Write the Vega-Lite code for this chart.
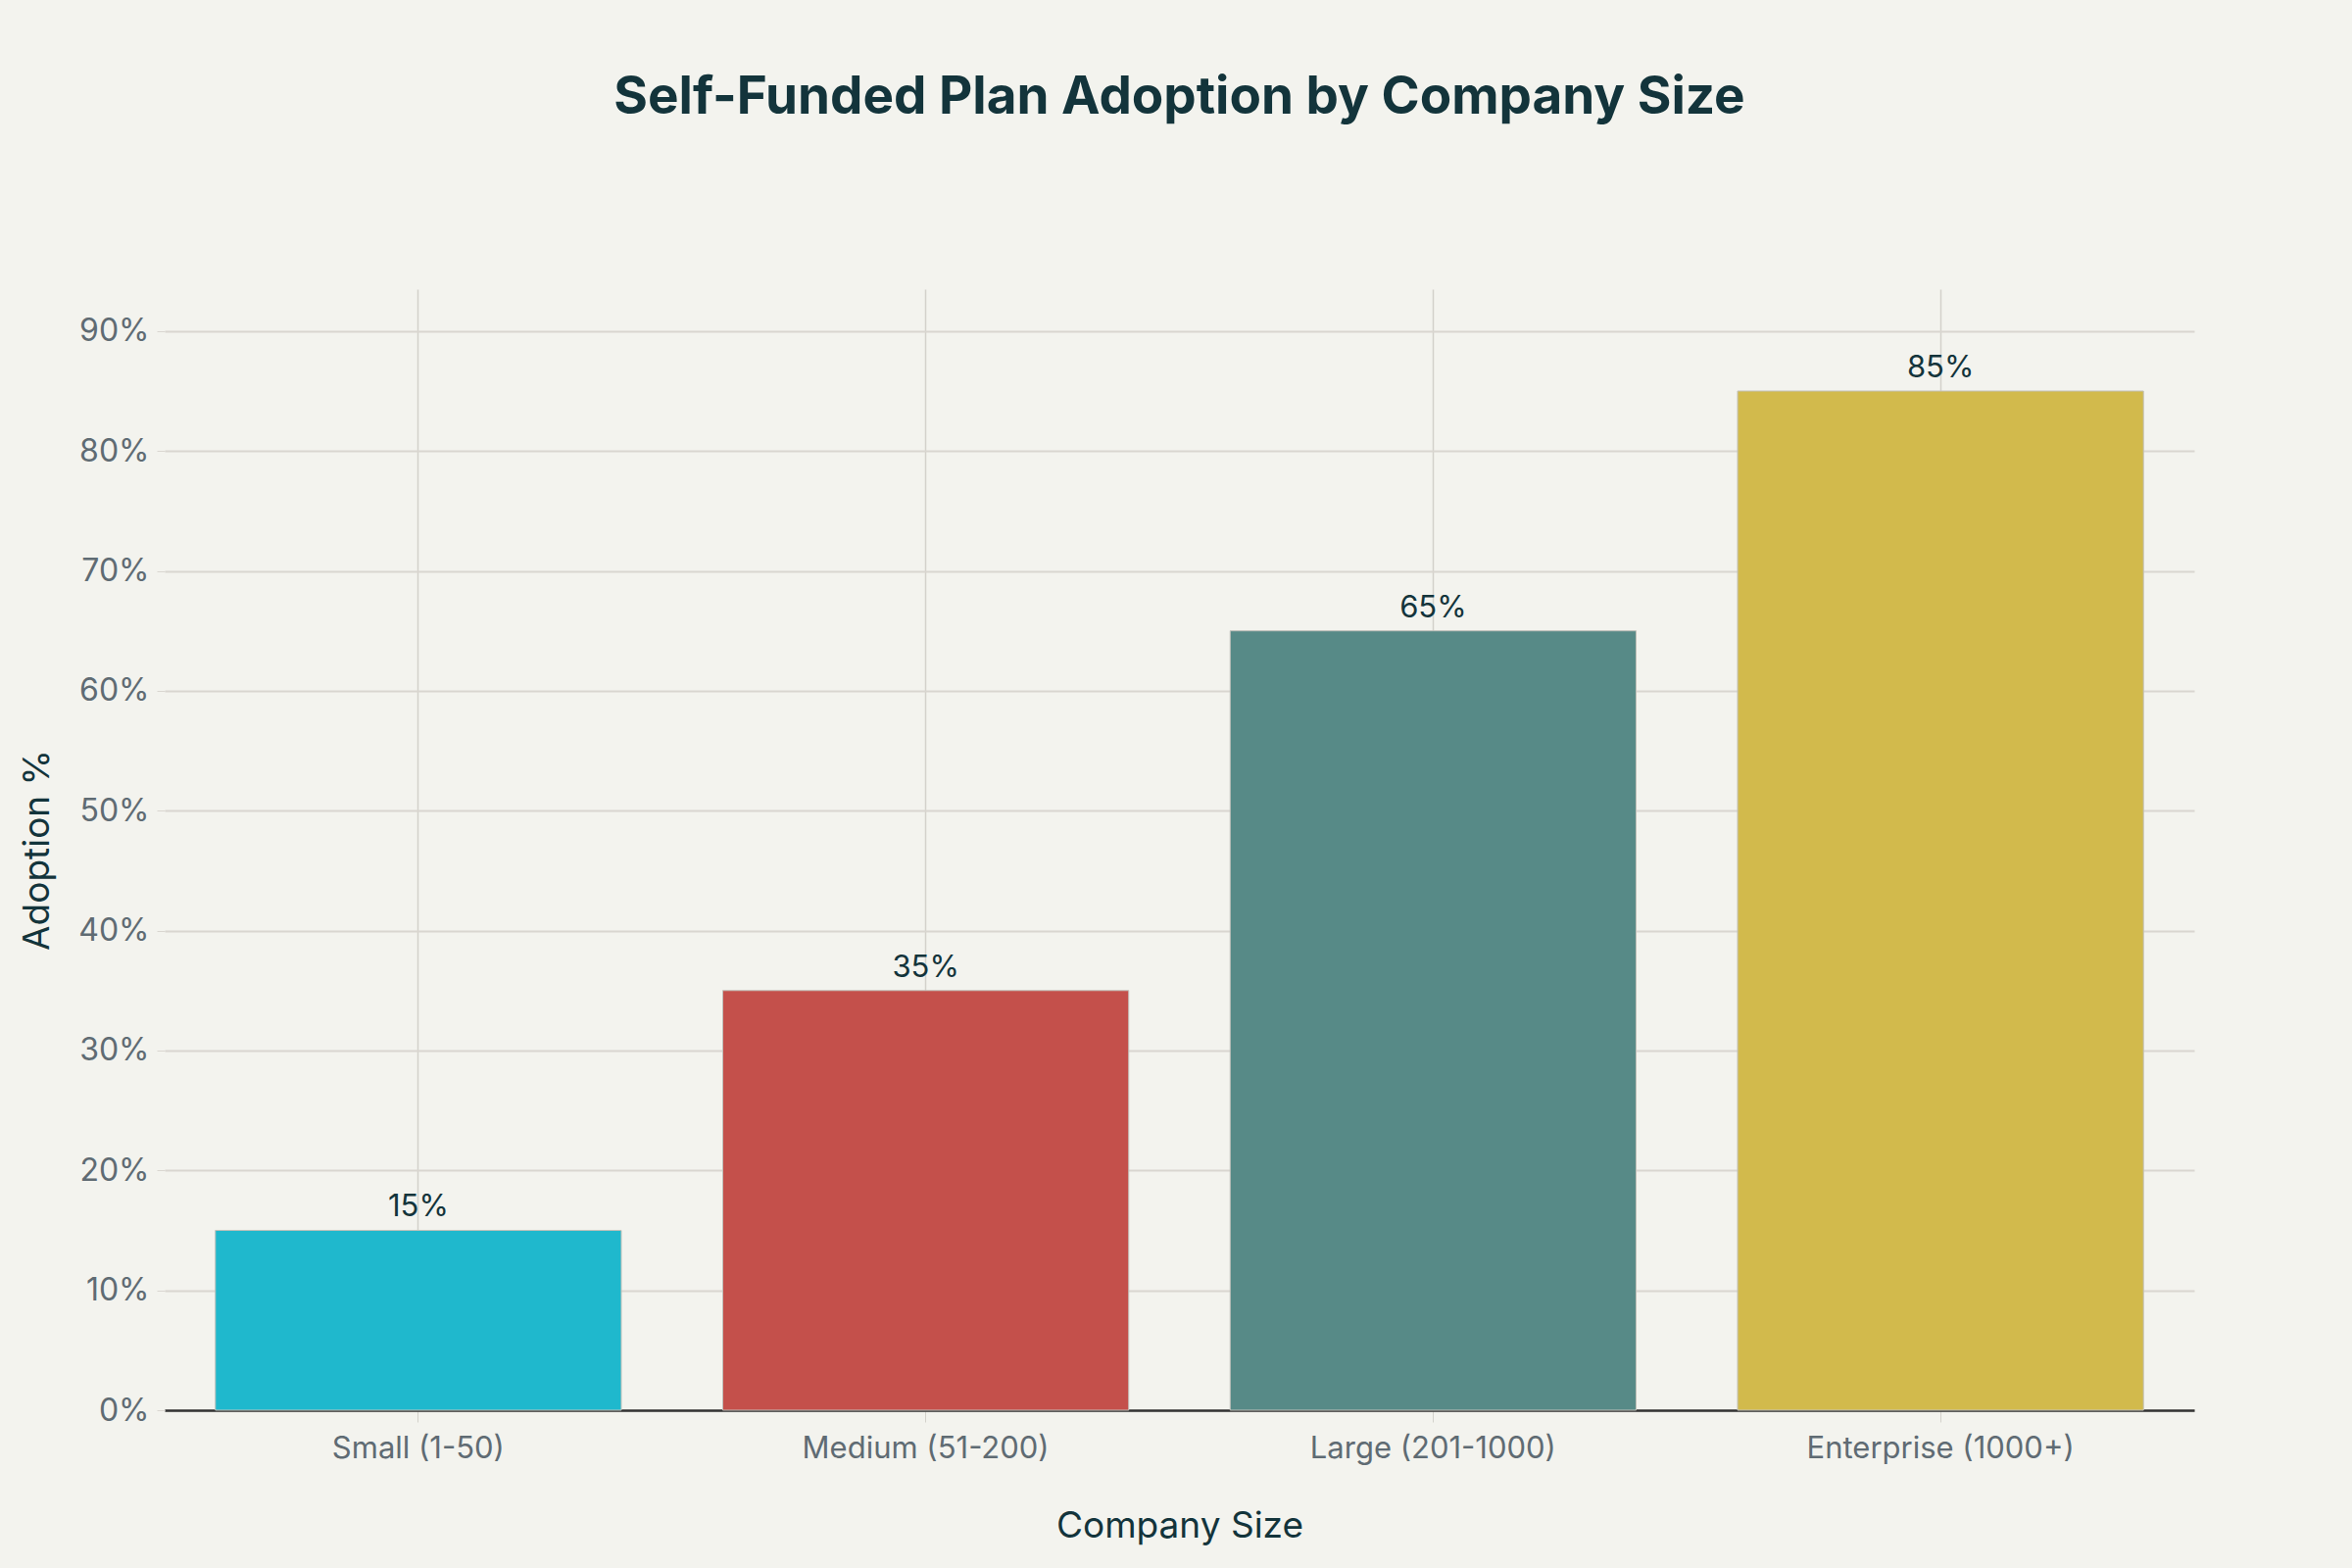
{
  "$schema": "https://vega.github.io/schema/vega-lite/v6.json",
  "autosize": {"type": "none"},
  "padding": {"left": 168, "top": 295, "right": 161, "bottom": 161},
  "width": 2071,
  "height": 1144,
  "background": "#F3F3EE",
  "title": {
    "text": "Self-Funded Plan Adoption by Company Size",
    "font": "Inter",
    "fontSize": 53,
    "fontWeight": "bold",
    "color": "#13343B",
    "anchor": "middle",
    "offset": 168
  },
  "data": {
    "values": [
      {"size": "Small (1-50)", "adoption": 15, "label": "15%"},
      {"size": "Medium (51-200)", "adoption": 35, "label": "35%"},
      {"size": "Large (201-1000)", "adoption": 65, "label": "65%"},
      {"size": "Enterprise (1000+)", "adoption": 85, "label": "85%"}
    ]
  },
  "encoding": {
    "x": {
      "field": "size",
      "type": "nominal",
      "sort": null,
      "title": "Company Size",
      "scale": {"paddingInner": 0.2, "paddingOuter": 0.1},
      "axis": {
        "labelAngle": 0,
        "labelLimit": 0,
        "labelFontSize": 31,
        "grid": true,
        "gridColor": "#D3D1CB",
        "gridWidth": 1.5,
        "domainColor": "#333333",
        "domainWidth": 2.5,
        "tickColor": "#D3D1CB",
        "tickSize": 12,
        "labelPadding": 12,
        "titlePadding": 46
      }
    },
    "y": {
      "field": "adoption",
      "type": "quantitative",
      "title": "Adoption %",
      "scale": {"domain": [0, 93.5], "nice": false},
      "axis": {
        "values": [0, 10, 20, 30, 40, 50, 60, 70, 80, 90],
        "labelExpr": "datum.value + '%'",
        "labelFontSize": 32,
        "grid": true,
        "gridColor": "#D9D6D0",
        "gridWidth": 2,
        "domain": false,
        "tickColor": "#D9D6D0",
        "tickSize": 8,
        "labelPadding": 8,
        "titlePadding": 22
      }
    }
  },
  "layer": [
    {
      "mark": {"type": "bar", "stroke": "#C2C1BA", "strokeWidth": 1},
      "encoding": {
        "color": {
          "field": "size",
          "type": "nominal",
          "sort": null,
          "legend": null,
          "scale": {"range": ["#1FB8CD", "#C4504B", "#578A87", "#D2BA4C"]}
        }
      }
    },
    {
      "mark": {
        "type": "text",
        "baseline": "bottom",
        "dy": -7,
        "font": "Inter",
        "fontSize": 31,
        "color": "#13343B"
      },
      "encoding": {
        "text": {"field": "label"}
      }
    }
  ],
  "config": {
    "view": {"stroke": null},
    "axis": {
      "labelFont": "Inter",
      "labelColor": "#5F6B73",
      "titleFont": "Inter",
      "titleFontSize": 37,
      "titleFontWeight": "normal",
      "titleColor": "#13343B"
    }
  }
}
